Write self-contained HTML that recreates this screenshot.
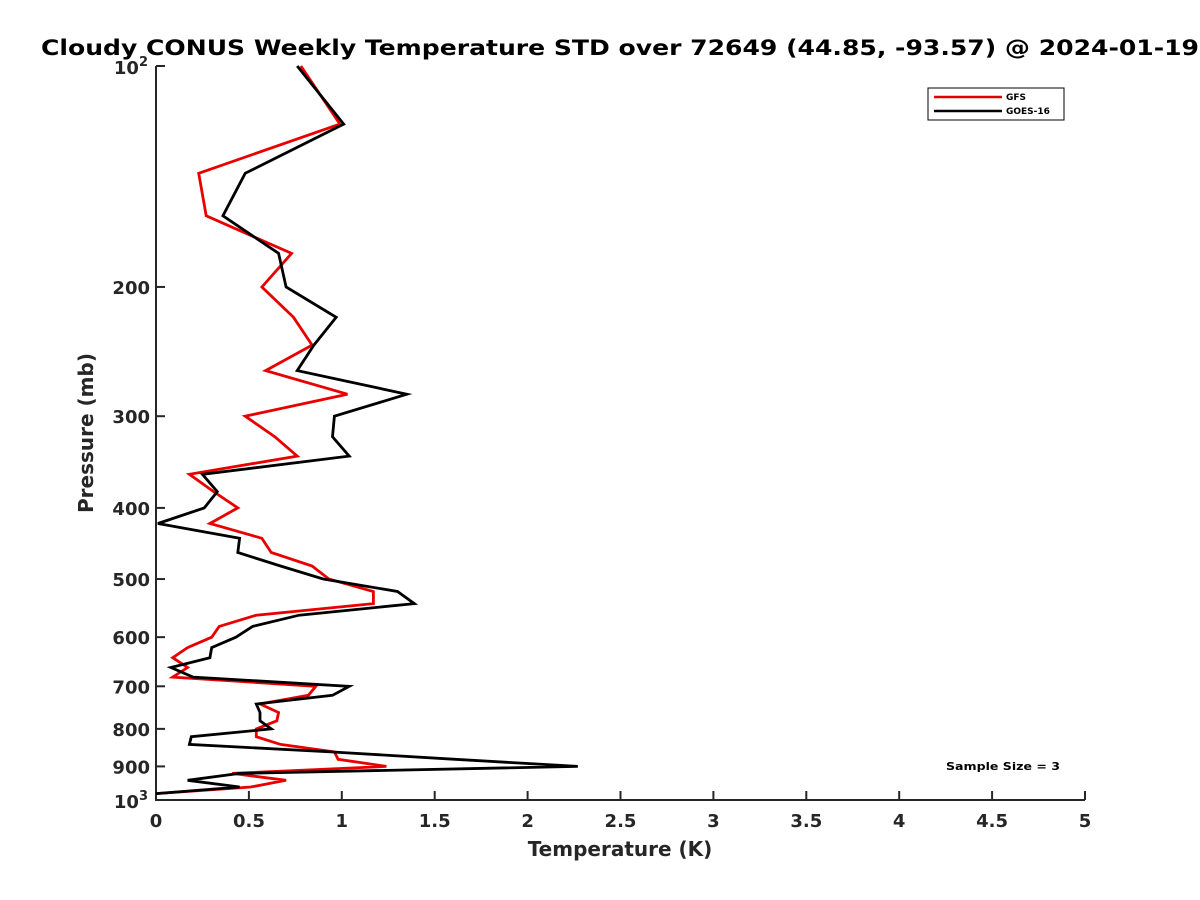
<!DOCTYPE html>
<html><head><meta charset="utf-8"><style>
body{margin:0;background:#fff;}
svg{display:block;font-family:"DejaVu Sans","Liberation Sans",sans-serif;}
</style></head><body>
<svg id="chart" width="1200" height="900" viewBox="0 0 1200 900">
<rect width="1200" height="900" fill="#fff"/>
<text x="41" y="55" font-size="21" font-weight="bold" fill="#000" textLength="1158" lengthAdjust="spacingAndGlyphs">Cloudy CONUS Weekly Temperature STD over 72649 (44.85, -93.57) @ 2024-01-19</text>
<g id="axes"></g>
<g id="lines"></g>
<g>
<rect x="928" y="88" width="136" height="32" fill="#fff" stroke="#000" stroke-width="1"/>
<line x1="934" y1="97" x2="1002" y2="97" stroke="#e00000" stroke-width="2.5"/>
<text x="1006" y="100" font-size="9" font-weight="bold">GFS</text>
<line x1="934" y1="111" x2="1002" y2="111" stroke="#000" stroke-width="2.5"/>
<text x="1006" y="114" font-size="9" font-weight="bold">GOES-16</text>
</g>
<text x="946" y="770" font-size="11" font-weight="bold" textLength="114" lengthAdjust="spacingAndGlyphs">Sample Size = 3</text>
<text x="620" y="856" font-size="20" font-weight="bold" fill="#262626" text-anchor="middle">Temperature (K)</text>
<text transform="translate(93,433) rotate(-90)" font-size="20" font-weight="bold" fill="#262626" text-anchor="middle">Pressure (mb)</text>
</svg>
<script>
const pressureLevels=[100,120,140,160,180,200,220,240,260,280,300,320,340,360,380,400,420,440,460,480,500,520,540,560,580,600,620,640,660,680,700,720,740,760,780,800,820,840,860,880,900,920,940,960,980];
const gfsValues=[0.78,0.99,0.23,0.27,0.73,0.57,0.74,0.84,0.59,1.03,0.48,0.64,0.76,0.18,0.31,0.44,0.29,0.57,0.62,0.84,0.93,1.17,1.17,0.54,0.34,0.30,0.17,0.09,0.17,0.09,0.86,0.82,0.56,0.66,0.65,0.54,0.54,0.67,0.96,0.98,1.24,0.41,0.70,0.51,0.0];
const goesValues=[0.76,1.01,0.48,0.36,0.66,0.70,0.97,0.85,0.76,1.35,0.96,0.95,1.04,0.25,0.33,0.26,0.01,0.45,0.44,0.67,0.90,1.30,1.39,0.77,0.52,0.43,0.30,0.29,0.08,0.20,1.04,0.95,0.54,0.56,0.56,0.62,0.19,0.18,0.94,1.61,2.27,0.45,0.17,0.45,0.0];
const xTicks=[0,0.5,1,1.5,2,2.5,3,3.5,4,4.5,5];
const xTickLabels=["0","0.5","1","1.5","2","2.5","3","3.5","4","4.5","5"];
const yTicks=[200,300,400,500,600,700,800,900];
const yTickLabels=["200","300","400","500","600","700","800","900"];

const NS="http://www.w3.org/2000/svg";
const X0=156,X1=1085,Y0=66,Y1=800;
function xs(t){return X0+(t-0)/(5-0)*(X1-X0);}
function ys(p){return Y0+(Math.log10(p)-2)*(Y1-Y0);}
function mk(tag,attrs,parent){const e=document.createElementNS(NS,tag);for(const k in attrs)e.setAttribute(k,attrs[k]);parent.appendChild(e);return e;}
const axes=document.getElementById('axes');
const ax=mk('path',{d:`M${X0},${Y0} L${X0},${Y1} L${X1},${Y1}`,fill:'none',stroke:'#262626','stroke-width':2},axes);


mk('line',{x1:X0,y1:Y0,x2:X0+9,y2:Y0,stroke:'#262626','stroke-width':2},axes);
xTicks.forEach((t,i)=>{
  mk('line',{x1:xs(t),y1:Y1,x2:xs(t),y2:Y1-9,stroke:'#262626','stroke-width':2},axes);
  const tx=mk('text',{x:xs(t),y:Y1+27,'font-size':18,'font-weight':'bold',fill:'#262626','text-anchor':'middle'},axes);
  tx.textContent=xTickLabels[i];
  
  
});
yTicks.forEach((p,i)=>{
  mk('line',{x1:X0,y1:ys(p),x2:X0+9,y2:ys(p),stroke:'#262626','stroke-width':2},axes);
  const tx=mk('text',{x:X0-6,y:ys(p)+7,'font-size':18,'font-weight':'bold',fill:'#262626','text-anchor':'end'},axes);
  tx.textContent=yTickLabels[i];
  
  
});
[[100,"2"],[1000,"3"]].forEach(([p,e])=>{
  const tx=mk('text',{x:X0-8,y:ys(p)+8,'font-size':18,'font-weight':'bold',fill:'#262626','text-anchor':'end'},axes);
  tx.innerHTML='10<tspan dy="-8" font-size="13">'+e+'</tspan>';
  
  
});
const lines=document.getElementById('lines');
function drawSeries(vals,color,name){
  const d=vals.map((v,i)=>(i?'L':'M')+xs(v).toFixed(1)+','+ys(pressureLevels[i]).toFixed(1)).join(' ');
  const pl=mk('path',{d:d,fill:'none',stroke:color,'stroke-width':2.8,'stroke-linejoin':'miter'},lines);
  
  
}
drawSeries(gfsValues,'#e80000','gfs-line');
drawSeries(goesValues,'#000','goes16-line');
</script>
</body></html>
